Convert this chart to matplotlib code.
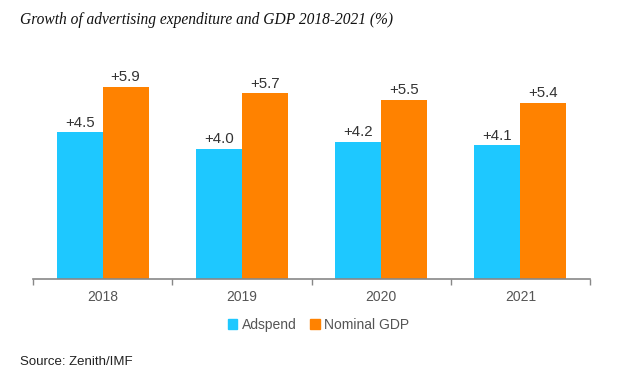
import matplotlib
matplotlib.use("Agg")
import matplotlib.pyplot as plt
import numpy as np
from matplotlib.patches import Patch

years = ["2018", "2019", "2020", "2021"]
adspend = [4.5, 4.0, 4.2, 4.1]
gdp = [5.9, 5.7, 5.5, 5.4]

cyan = "#1EC8FF"
orange = "#FF8200"
grey = "#555555"

fig = plt.figure(figsize=(6.37, 3.87), dpi=100)
ax = fig.add_axes([33/637, 1-279/387, (590-33)/637, (279-40)/387])
x = np.arange(len(years))
w = 0.33
b1 = ax.bar(x - w/2, adspend, w, color=cyan)
b2 = ax.bar(x + w/2, gdp, w, color=orange)
for rects, vals in ((b1, adspend), (b2, gdp)):
    for r, v in zip(rects, vals):
        ax.text(r.get_x() + r.get_width()/2, v + 0.08, f"+{v:.1f}", ha="center", va="bottom",
                fontsize=10.8, color="#333333", family="Liberation Sans")
ax.set_xlim(-0.5, 3.5)
ax.set_ylim(0, (279-40)/32.6)
for s in ["top", "right", "left"]:
    ax.spines[s].set_visible(False)
ax.spines["bottom"].set_color("#888888")
ax.spines["bottom"].set_linewidth(1.2)
ax.set_yticks([])
ax.set_xticks([-0.5, 0.5, 1.5, 2.5, 3.5])
ax.set_xticklabels([])
ax.tick_params(axis="x", length=4, color="#888888", width=1)
ax.set_xticks(x, minor=True)
ax.set_xticklabels(years, minor=True, fontsize=10, color=grey, family="Liberation Sans")
ax.tick_params(axis="x", which="minor", length=0, pad=8)

fig.text(20/637, 1-20/387, "Growth of advertising expenditure and GDP 2018-2021 (%)",
         fontsize=11.2, style="italic", family="Liberation Serif", va="center", color="#111111")
handles = [Patch(color=cyan, label="Adspend"), Patch(color=orange, label="Nominal GDP")]
fig.legend(handles=handles, loc="center", bbox_to_anchor=(0.5, 1-325/387), ncol=2, frameon=False,
           prop={"family": "Liberation Sans", "size": 10}, handlelength=0.7, handleheight=0.7,
           handletextpad=0.3, columnspacing=1.0, labelcolor=grey)
fig.text(20/637, 1-362/387, "Source: Zenith/IMF", fontsize=9.5, family="Liberation Sans",
         va="center", color="#222222")
fig.savefig("out.png", dpi=100)
